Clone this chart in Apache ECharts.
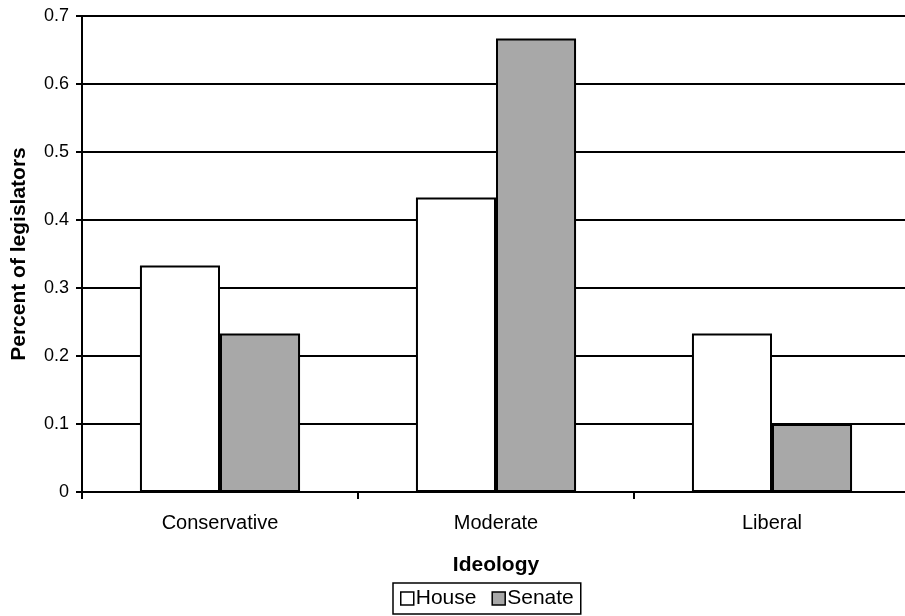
<!DOCTYPE html>
<html>
<head>
<meta charset="utf-8">
<script src="https://cdn.jsdelivr.net/npm/echarts@6/dist/echarts.min.js"></script>
<style>
  html, body { margin: 0; padding: 0; background: #fff; }
  #chart { width: 905px; height: 616px; }
</style>
</head>
<body>
<div id="chart"></div>
<script>
// Share of legislators by ideology, House vs Senate
const categories = ['Conservative', 'Moderate', 'Liberal'];
const houseValues = [0.333, 0.433, 0.233];
const senateValues = [0.233, 0.667, 0.1];
const yTicks = { min: 0, max: 0.7, step: 0.1 };

const FONT = '"Liberation Sans", Arial, sans-serif';
const chart = echarts.init(document.getElementById('chart'), null, { renderer: 'canvas' });

chart.setOption({
  animation: false,
  backgroundColor: '#fff',
  grid: { left: 82, right: -5, top: 16, bottom: 124, containLabel: false, outerBoundsMode: 'none' },
  legend: {
    left: 393,
    top: 583,
    padding: [5, 7, 5, 7],
    borderColor: '#000',
    borderWidth: 1.5,
    itemGap: 15,
    itemWidth: 13,
    itemHeight: 13,
    icon: 'rect',
    textStyle: { fontFamily: FONT, fontSize: 21, color: '#000', padding: [0, 0, 0, -3] },
    data: [
      { name: 'House', itemStyle: { color: '#fff', borderColor: '#000', borderWidth: 1.5 } },
      { name: 'Senate', itemStyle: { color: '#a8a8a8', borderColor: '#000', borderWidth: 1.5 } }
    ]
  },
  xAxis: {
    type: 'category',
    data: categories,
    name: 'Ideology',
    nameLocation: 'middle',
    nameGap: 63,
    nameTextStyle: { fontFamily: FONT, fontSize: 21, fontWeight: 'bold', color: '#000' },
    axisLine: { lineStyle: { color: '#000', width: 2 } },
    axisTick: { show: true, length: 7, lineStyle: { color: '#000', width: 2 } },
    axisLabel: { fontFamily: FONT, fontSize: 20, color: '#000', margin: 21 },
    splitLine: { show: false }
  },
  yAxis: {
    type: 'value',
    min: yTicks.min,
    max: yTicks.max,
    interval: yTicks.step,
    name: 'Percent of legislators',
    nameLocation: 'middle',
    nameGap: 52,
    nameTextStyle: { fontFamily: FONT, fontSize: 21, fontWeight: 'bold', color: '#000' },
    axisLine: { show: true, lineStyle: { color: '#000', width: 2 } },
    axisTick: { show: true, length: 6, lineStyle: { color: '#000', width: 2 } },
    axisLabel: {
      fontFamily: FONT, fontSize: 18, color: '#000', margin: 13,
      formatter: v => (v === 0 ? '0' : v.toFixed(1))
    },
    splitLine: { show: true, lineStyle: { color: '#000', width: 2 } }
  },
  series: [
    {
      name: 'House',
      type: 'bar',
      data: houseValues,
      barGap: '0%',
      barCategoryGap: '42%',
      itemStyle: { color: '#fff', borderColor: '#000', borderWidth: 2 }
    },
    {
      name: 'Senate',
      type: 'bar',
      data: senateValues,
      barGap: '0%',
      barCategoryGap: '42%',
      itemStyle: { color: '#a8a8a8', borderColor: '#000', borderWidth: 2 }
    }
  ]
});
</script>
</body>
</html>
